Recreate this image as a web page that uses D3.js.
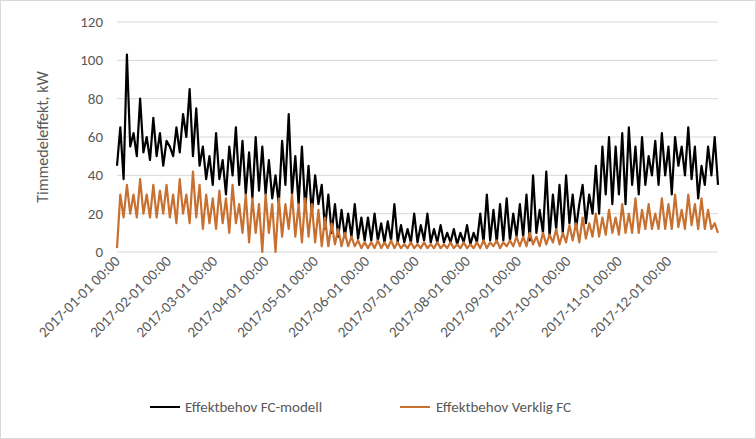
<!DOCTYPE html>
<html><head><meta charset="utf-8">
<script src="https://cdn.jsdelivr.net/npm/d3@7"></script>
<style>body{margin:0;background:#fff}text{font-family:Calibri,Carlito,"Liberation Sans",Arial,sans-serif;fill:#595959}</style>
</head><body><svg width="756" height="439"></svg>
<script>
// values every 2 days, 2017-01-01 .. 2017-12-31
const model = [45,65,38,103,55,62,50,80,52,60,48,70,50,62,45,58,
55,50,65,52,72,60,85,50,75,45,55,38,50,35,
62,38,48,30,55,40,65,35,58,30,52,28,60,32,55,30,
48,28,40,25,58,35,72,30,50,25,55,22,45,20,40,
25,35,12,30,10,25,8,22,8,20,8,25,7,18,6,
18,6,20,6,15,5,16,6,25,5,14,5,12,5,20,
5,14,6,20,5,12,5,14,5,10,5,12,4,10,5,
14,4,10,5,20,5,30,6,22,5,25,6,28,6,20,8,
25,8,30,6,40,10,22,10,42,8,30,12,35,10,40,
15,30,12,25,35,15,30,20,45,20,55,30,60,25,55,
30,62,25,65,35,55,30,60,35,50,40,58,35,62,40,
55,30,60,45,55,40,65,38,55,28,45,35,55,40,60,35];
const actual = [2,30,18,35,20,30,18,38,20,30,18,35,18,32,20,35,
18,30,15,38,20,30,15,42,18,35,12,30,15,28,
12,32,15,28,10,35,15,25,10,30,5,28,10,25,0,30,
10,25,0,28,8,25,12,30,8,25,5,28,8,25,5,
22,3,18,3,15,4,12,3,10,3,8,3,6,2,5,
2,5,2,6,2,5,2,6,2,5,2,4,2,5,2,
4,2,5,2,4,2,5,2,4,2,5,2,4,2,5,
2,4,2,5,2,6,2,5,3,6,2,5,3,6,3,8,
3,8,3,10,4,8,3,10,4,9,5,12,4,10,5,
14,6,15,5,18,7,15,8,20,8,18,9,22,10,18,
9,25,10,20,10,28,10,22,12,25,12,20,12,28,12,
25,12,30,13,22,12,30,14,25,12,28,12,22,12,15,10];
const yTicks = [0,20,40,60,80,100,120];
const monthTicks = d3.range(12).map(m => new Date(2017, m, 1));
const seriesNames = ["Effektbehov FC-modell", "Effektbehov Verklig FC"];
const colors = ["#000000", "#c8702f"];

const svg = d3.select("svg");
svg.append("rect").attr("x",0.5).attr("y",0.5).attr("width",755).attr("height",438)
  .attr("fill","#fff").attr("stroke","#d9d9d9");

const x = d3.scaleTime().domain([new Date(2017,0,1), new Date(2017,11,31)]).range([117, 718]);
const y = d3.scaleLinear().domain([0,120]).range([252, 22]);
const day = i => new Date(2017, 0, 1 + 2*i);

svg.append("g").selectAll("line").data(yTicks).join("line")
  .attr("x1",117).attr("x2",718).attr("y1",d=>y(d)).attr("y2",d=>y(d))
  .attr("stroke","#d9d9d9");

svg.append("g").selectAll("text").data(yTicks).join("text")
  .attr("x",103).attr("y",d=>y(d)+5).attr("text-anchor","end")
  .attr("font-size",15).text(d=>d);

svg.append("text").attr("transform","translate(48,137) rotate(-90)")
  .attr("text-anchor","middle").attr("font-size",16).text("Timmedeleffekt, kW");

const fmt = d3.timeFormat("%Y-%m-%d 00:00");
svg.append("g").selectAll("text").data(monthTicks).join("text")
  .attr("transform",d=>`translate(${x(d)+4},${262}) rotate(-45)`)
  .attr("text-anchor","end").attr("font-size",15).text(fmt);

const line = d3.line().x((d,i)=>x(day(i))).y(d=>y(d));
[model, actual].forEach((s,k)=>{
  svg.append("path").datum(s).attr("d",line).attr("fill","none")
    .attr("stroke",colors[k]).attr("stroke-width",2.2).attr("stroke-linejoin","round");
});

const leg = [[150,185],[400,436]];
seriesNames.forEach((n,k)=>{
  svg.append("line").attr("x1",leg[k][0]).attr("x2",leg[k][0]+30)
    .attr("y1",407).attr("y2",407).attr("stroke",colors[k]).attr("stroke-width",2);
  svg.append("text").attr("x",leg[k][1]).attr("y",412).attr("font-size",15).text(n);
});
</script></body></html>
